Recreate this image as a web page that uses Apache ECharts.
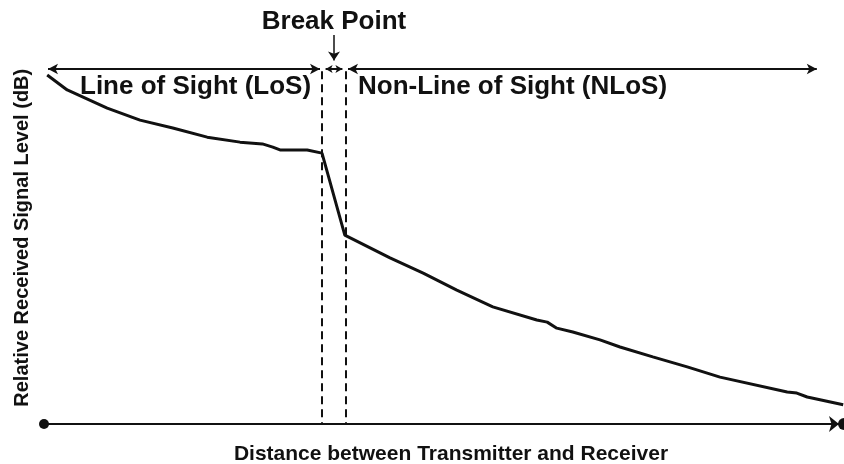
<!DOCTYPE html>
<html>
<head>
<meta charset="utf-8">
<script src="https://cdn.jsdelivr.net/npm/echarts@6/dist/echarts.min.js"></script>
<style>
  html, body { margin: 0; padding: 0; background: #fff; }
  #chart { width: 844px; height: 464px; }
</style>
</head>
<body>
<div id="chart"></div>
<script>
// distance (arbitrary units, 0-100) and relative level (dB)
var distance = [0.4, 2.9, 7.9, 12, 16.1, 20.4, 24.5, 27.3, 28.6, 29.5, 32.9, 34.75,
                37.6, 43.25, 47.4, 51.6, 56.1, 61.6, 62.9, 64.1, 66.1, 69.5, 72, 76.1, 80.4, 84.5, 92.9, 94.1, 95.4, 99.9];
var level = [-1.7, -5.9, -11.0, -14.4, -16.6, -19.2, -20.6, -21.1, -22.0, -22.8, -22.8, -23.7,
             -46.8, -53.2, -57.5, -62.3, -67.0, -70.7, -71.3, -73.0, -74.1, -76.3, -78.3, -81.1, -83.9, -86.8, -91.0, -91.3, -92.4, -94.6];
var breakStart = 34.75;
var breakEnd = 37.75;

var seriesData = distance.map(function (d, i) { return [d, level[i]]; });

var font = '"Liberation Sans", Arial, sans-serif';

var myChart = echarts.init(document.getElementById('chart'));
myChart.setOption({
    animation: false,
    backgroundColor: '#fff',
    grid: { left: 44, right: 0, top: 33.5, bottom: 40, outerBoundsMode: 'none', containLabel: false },
    xAxis: {
        type: 'value',
        min: 0,
        max: 100,
        name: 'Distance between Transmitter and Receiver',
        nameLocation: 'middle',
        nameGap: 20,
        nameTextStyle: { color: '#111', fontSize: 21, fontWeight: 'bold', fontFamily: font, padding: [0, 0, 0, 14] },
        axisLine: {
            show: true,
            onZero: false,
            symbol: ['circle', 'arrow'],
            symbolSize: [12, 10],
            symbolOffset: [0, -5],
            lineStyle: { color: '#111', width: 2 }
        },
        axisTick: { show: false },
        axisLabel: { show: false },
        splitLine: { show: false }
    },
    yAxis: {
        type: 'value',
        min: -100,
        max: 10,
        name: 'Relative Received Signal Level (dB)',
        nameLocation: 'middle',
        nameGap: 12,
        nameTextStyle: { color: '#111', fontSize: 20, fontWeight: 'bold', fontFamily: font, padding: [0, 18, 0, 0] },
        axisLine: { show: false },
        axisTick: { show: false },
        axisLabel: { show: false },
        splitLine: { show: false }
    },
    graphic: [
        { type: 'text', style: { text: 'Break Point', x: 334, y: 22, align: 'center', verticalAlign: 'middle', font: 'bold 26px ' + font, fill: '#111' } },
        { type: 'text', style: { text: 'Line of Sight (LoS)', x: 80, y: 87, align: 'left', verticalAlign: 'middle', font: 'bold 26px ' + font, fill: '#111' } },
        { type: 'text', style: { text: 'Non-Line of Sight (NLoS)', x: 358, y: 87, align: 'left', verticalAlign: 'middle', font: 'bold 26px ' + font, fill: '#111' } }
    ],
    series: [{
        type: 'line',
        data: seriesData,
        showSymbol: false,
        symbol: 'none',
        lineStyle: { color: '#111', width: 3 },
        markPoint: {
            silent: true,
            symbol: 'circle',
            symbolSize: 12,
            itemStyle: { color: '#111' },
            label: { show: false },
            data: [{ coord: [100, -100] }]
        },
        markLine: {
            silent: true,
            symbol: ['none', 'none'],
            label: { show: false },
            data: [
                [{ coord: [breakStart, -0.6], lineStyle: { type: [8, 5], width: 2, color: '#111' } }, { coord: [breakStart, -100] }],
                [{ coord: [breakEnd, -0.6], lineStyle: { type: [8, 5], width: 2, color: '#111' } }, { coord: [breakEnd, -100] }],
                [{ coord: [0.5, 0], symbol: 'arrow', symbolSize: [8, 10], lineStyle: { type: 'solid', width: 2, color: '#111' } }, { coord: [34.5, 0], symbol: 'arrow', symbolSize: [8, 10] }],
                [{ coord: [35.2, 0], symbol: 'arrow', symbolSize: [6, 7], lineStyle: { type: 'solid', width: 2, color: '#111' } }, { coord: [37.3, 0], symbol: 'arrow', symbolSize: [6, 7] }],
                [{ coord: [38.0, 0], symbol: 'arrow', symbolSize: [8, 10], lineStyle: { type: 'solid', width: 2, color: '#111' } }, { coord: [96.6, 0], symbol: 'arrow', symbolSize: [8, 10] }],
                [{ coord: [36.25, 9.6], symbol: 'none', lineStyle: { type: 'solid', width: 1.5, color: '#111' } }, { coord: [36.25, 2.4], symbol: 'arrow', symbolSize: [9, 9] }]
            ]
        }
    }]
});
</script>
</body>
</html>
